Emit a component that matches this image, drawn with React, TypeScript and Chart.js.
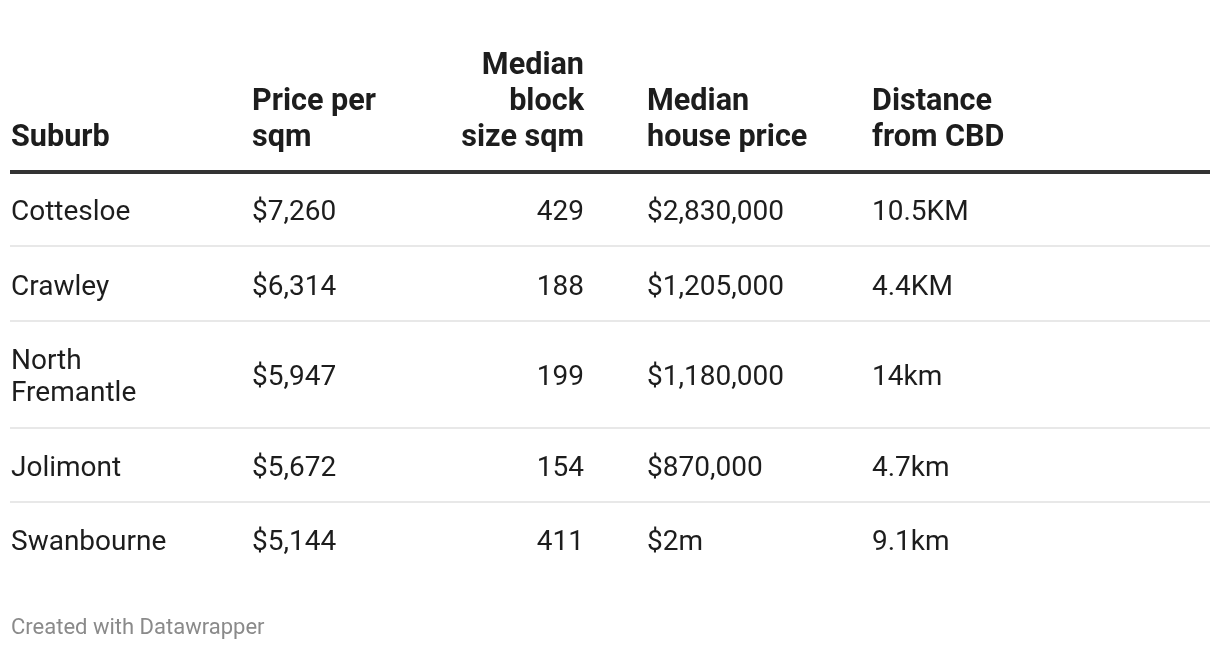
import React, { useEffect, useRef } from "react";
import { Chart, registerables } from "chart.js";

Chart.register(...registerables);

// ---------- data ----------
const headerLines: string[][] = [
  ["Suburb"],
  ["Price per", "sqm"],
  ["Median", "block", "size sqm"],
  ["Median", "house price"],
  ["Distance", "from CBD"],
];
const suburbs = ["Cottesloe", "Crawley", "North Fremantle", "Jolimont", "Swanbourne"];
const pricePerSqm = [7260, 6314, 5947, 5672, 5144];
const blockSizeSqm = [429, 188, 199, 154, 411];
const medianHousePrice = ["$2,830,000", "$1,205,000", "$1,180,000", "$870,000", "$2m"];
const distanceFromCBD = ["10.5KM", "4.4KM", "14km", "4.7km", "9.1km"];
const footerText = "Created with Datawrapper";

// ---------- layout / style ----------
const W = 1220;
const H = 650;
const PAD_X = 10;
const COL_X = [1, 242, 574, 637, 862];
const COL_ALIGN: CanvasTextAlign[] = ["left", "left", "right", "left", "left"];
const SUBURB_MAX_W = 190;
const HEADER_BOTTOM = 172;
const HEADER_LAST_BASELINE = 146;
const HEADER_LINE_H = 36;
const ROW_H = 74.5;
const LINE_H = 32;
const FONT_FAMILY = "Roboto, 'Noto Sans', sans-serif";
const BODY_FONT = `400 28px ${FONT_FAMILY}`;
const HEAD_FONT = `700 30.6px ${FONT_FAMILY}`;
const FOOT_FONT = `400 22px ${FONT_FAMILY}`;
const TEXT_COLOR = "#1d1d1d";
const FOOT_COLOR = "#8a8a8a";

function wrapText(text: string, maxW: number): string[] {
  const c = document.createElement("canvas").getContext("2d")!;
  c.font = BODY_FONT;
  const words = text.split(" ");
  const lines: string[] = [];
  let cur = "";
  for (const w of words) {
    const t = cur ? cur + " " + w : w;
    if (cur && c.measureText(t).width > maxW) {
      lines.push(cur);
      cur = w;
    } else cur = t;
  }
  if (cur) lines.push(cur);
  return lines;
}

export default function App() {
  const ref = useRef<HTMLCanvasElement>(null);

  useEffect(() => {
    const canvas = ref.current!;
    const suburbLines = suburbs.map((s) => wrapText(s, SUBURB_MAX_W));
    const rowLines = suburbLines.map((l) => l.length);
    const boundaries: number[] = [HEADER_BOTTOM];
    rowLines.forEach((n) => boundaries.push(boundaries[boundaries.length - 1] + ROW_H + LINE_H * (n - 1)));
    const gridValues = boundaries.slice(0, -1); // last row has no bottom rule

    const cells: string[][] = suburbs.map((_, i) => [
      "",
      "$" + pricePerSqm[i].toLocaleString("en-US"),
      String(blockSizeSqm[i]),
      medianHousePrice[i],
      distanceFromCBD[i],
    ]);

    const tablePlugin = {
      id: "tableText",
      afterDraw(chart: any) {
        const { ctx } = chart;
        const xs = chart.scales.x;
        const ys = chart.scales.y;
        ctx.save();
        ctx.textBaseline = "alphabetic";
        // header
        ctx.font = HEAD_FONT;
        ctx.fillStyle = TEXT_COLOR;
        headerLines.forEach((lines, c) => {
          ctx.textAlign = COL_ALIGN[c];
          lines.forEach((ln, k) => {
            const yv = HEADER_LAST_BASELINE - (lines.length - 1 - k) * HEADER_LINE_H;
            ctx.fillText(ln, xs.getPixelForValue(COL_X[c]), ys.getPixelForValue(yv));
          });
        });
        // body
        ctx.font = BODY_FONT;
        suburbs.forEach((_, r) => {
          const center = (boundaries[r] + boundaries[r + 1]) / 2;
          const n = rowLines[r];
          const base = center + 11;
          ctx.textAlign = COL_ALIGN[0];
          suburbLines[r].forEach((ln, k) => {
            const yv = base - ((n - 1) * LINE_H) / 2 + k * LINE_H;
            ctx.fillText(ln, xs.getPixelForValue(COL_X[0]), ys.getPixelForValue(yv));
          });
          for (let c = 1; c < cells[r].length; c++) {
            ctx.textAlign = COL_ALIGN[c];
            ctx.fillText(cells[r][c], xs.getPixelForValue(COL_X[c]), ys.getPixelForValue(base));
          }
        });
        // footer
        ctx.font = FOOT_FONT;
        ctx.fillStyle = FOOT_COLOR;
        ctx.textAlign = "left";
        ctx.fillText(footerText, xs.getPixelForValue(COL_X[0]), ys.getPixelForValue(634));
        ctx.restore();
      },
    };

    const chart = new Chart(canvas, {
      type: "scatter",
      data: { datasets: [{ data: [], showLine: false }] },
      options: {
        animation: false,
        responsive: false,
        devicePixelRatio: 1,
        layout: { padding: { left: PAD_X, right: PAD_X, top: 0, bottom: 0 } },
        plugins: { legend: { display: false }, tooltip: { enabled: false } },
        scales: {
          x: { type: "linear", min: 0, max: W - 2 * PAD_X, display: false },
          y: {
            type: "linear",
            min: 0,
            max: H,
            reverse: true,
            display: true,
            border: { display: false },
            ticks: { display: false },
            grid: {
              drawTicks: false,
              tickLength: 0,
              color: (ctx: any) => (ctx.tick && ctx.tick.value === HEADER_BOTTOM ? "#333333" : "#e8e8e8"),
              lineWidth: (ctx: any) => (ctx.tick && ctx.tick.value === HEADER_BOTTOM ? 4 : 2),
            },
            afterBuildTicks: (scale: any) => {
              scale.ticks = gridValues.map((v) => ({ value: v }));
            },
          },
        },
      },
      plugins: [tablePlugin],
    });
    return () => chart.destroy();
  }, []);

  return (
    <div style={{ position: "absolute", left: 0, top: 0, width: W, height: H, background: "#fff" }}>
      <canvas ref={ref} width={W} height={H} style={{ display: "block" }} />
    </div>
  );
}
